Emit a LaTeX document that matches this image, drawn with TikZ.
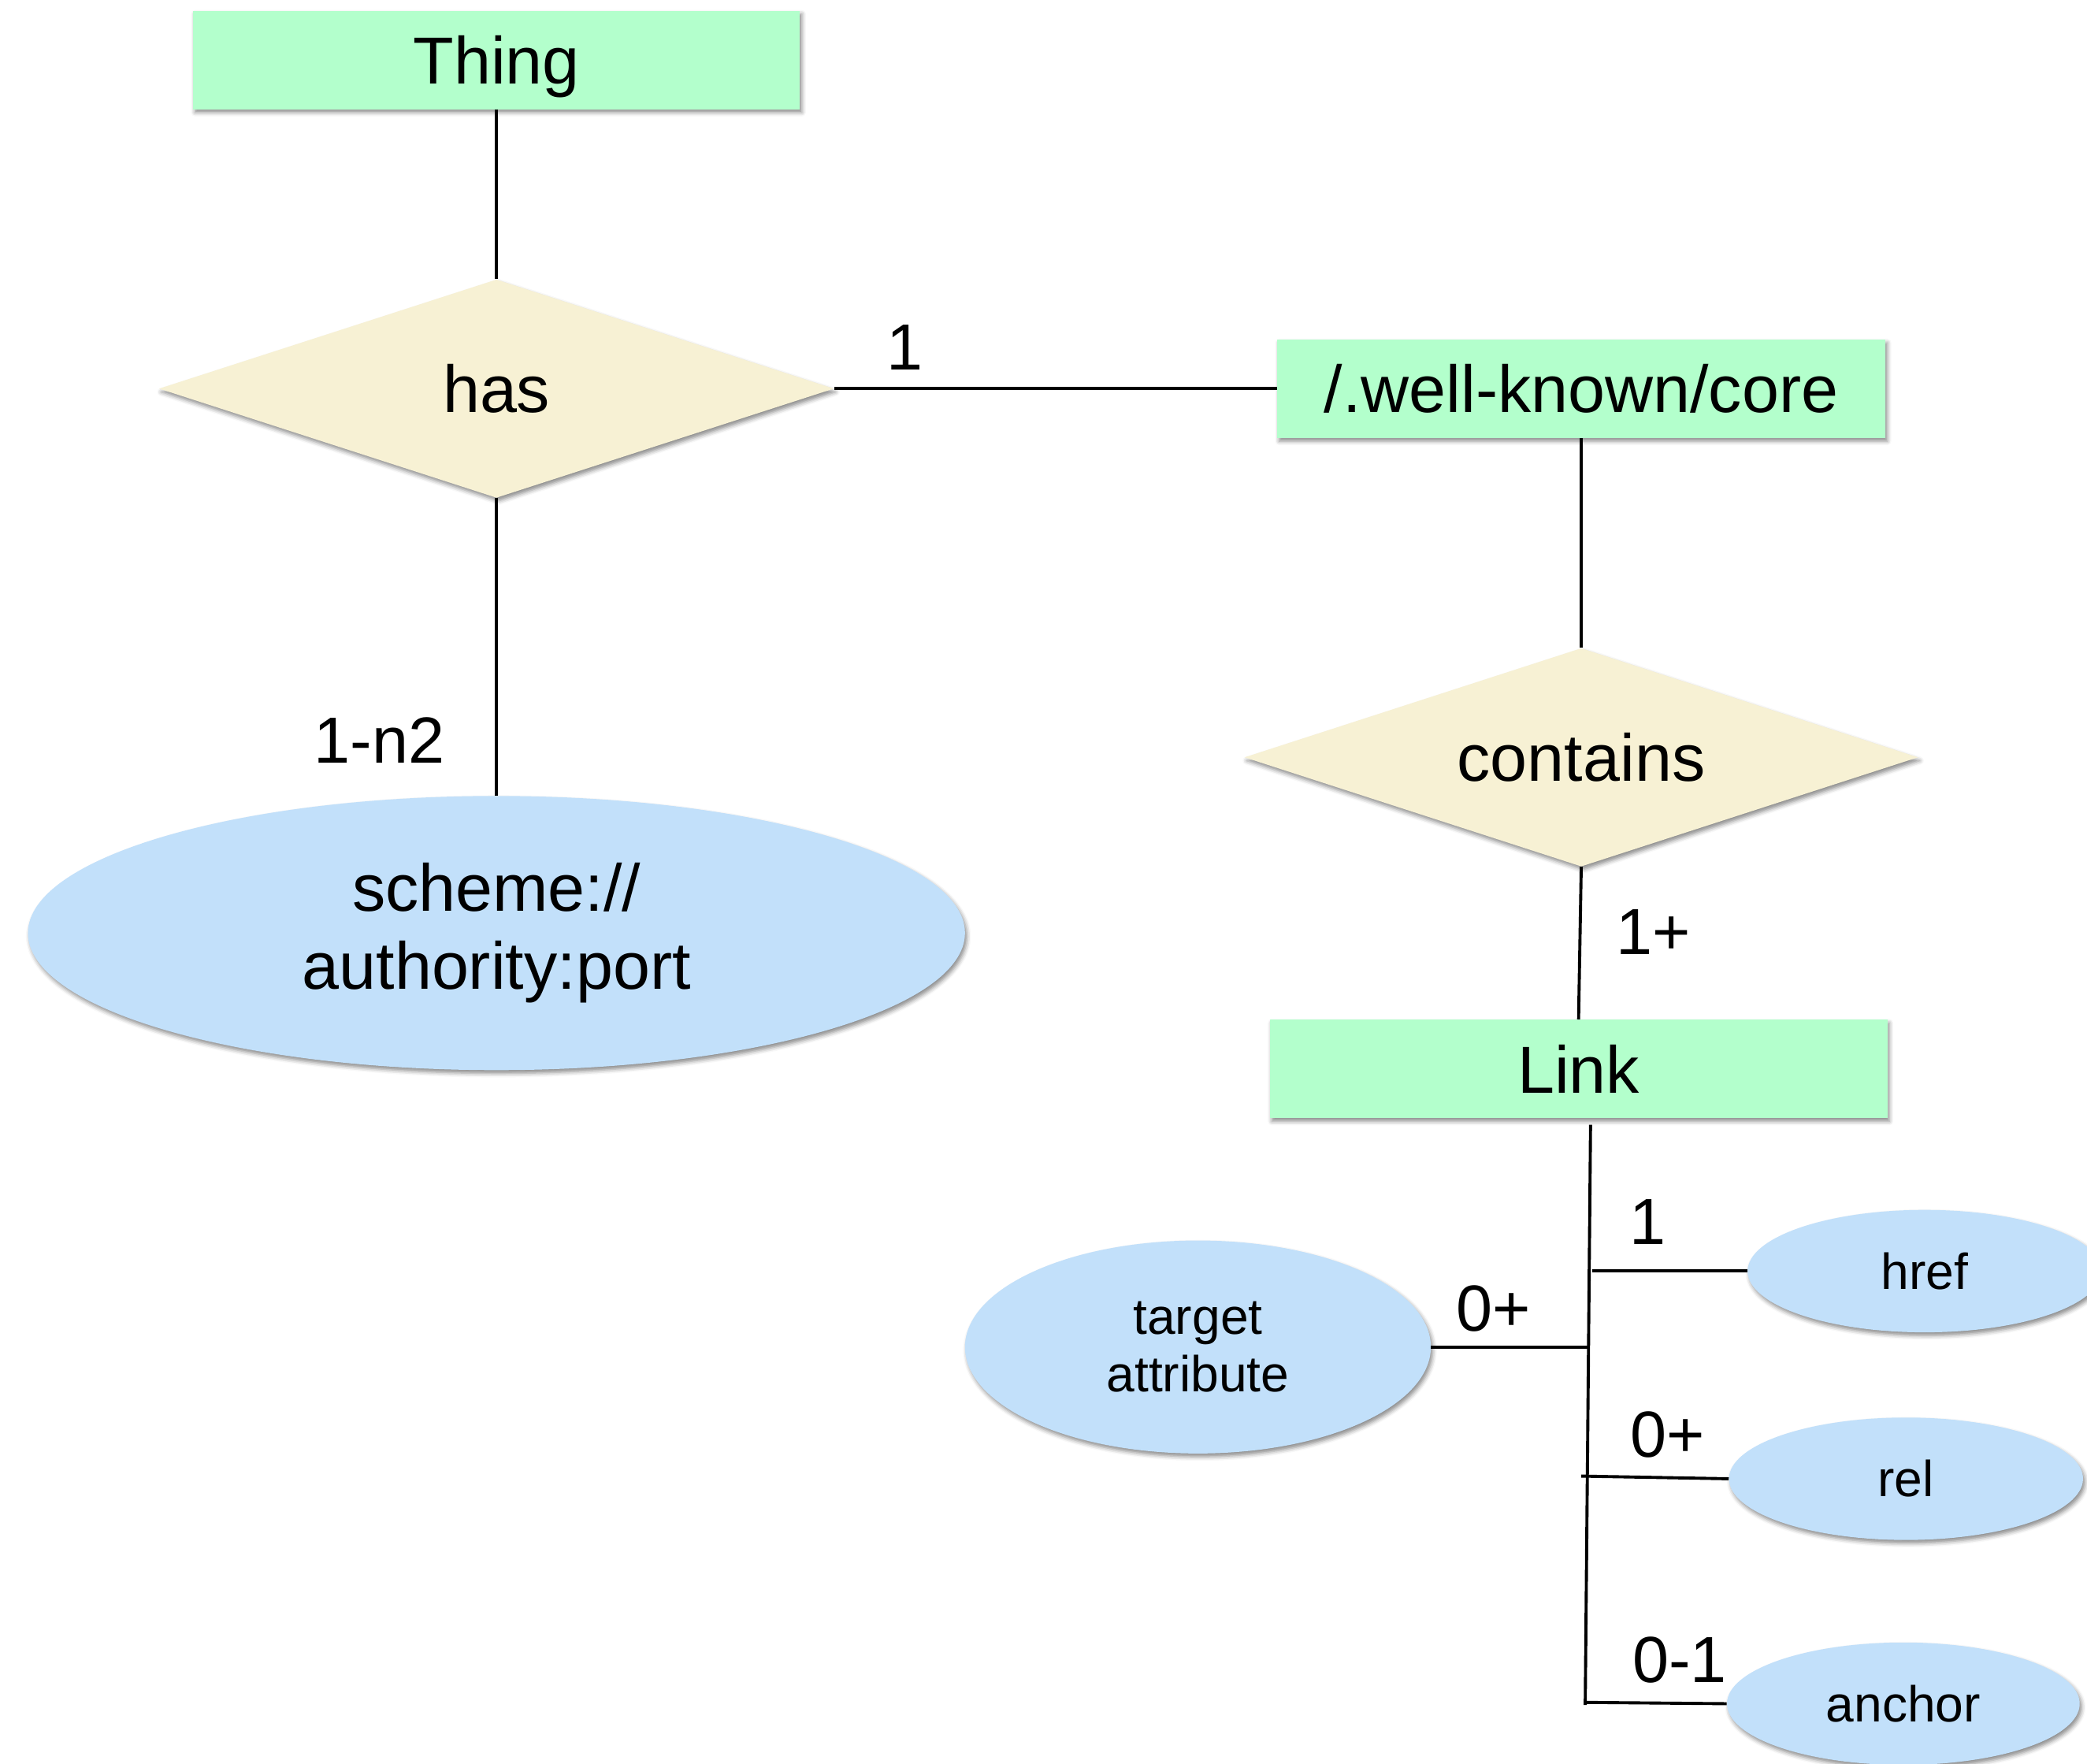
\documentclass[tikz,border=0pt]{standalone}
\usepackage{fontspec}
\setmainfont{Liberation Sans}
\usetikzlibrary{shapes.geometric,shadows.blur}
\definecolor{boxgreen}{RGB}{179,255,204}
\definecolor{relfill}{RGB}{247,241,212}
\definecolor{attrblue}{RGB}{194,224,250}
\begin{document}
\begin{tikzpicture}[x=1pt,y=-1pt,
  shad/.style={blur shadow={shadow xshift=1.5pt,shadow yshift=-2.5pt,shadow blur radius=3pt,shadow opacity=45}},
  entity/.style={rectangle,fill=boxgreen,shad,inner sep=0pt,minimum height=74pt,text depth=0pt,font=\fontsize{50}{59}\selectfont},
  relation/.style={diamond,fill=relfill,shad,inner sep=0pt,shape aspect=3.09,minimum width=507pt,minimum height=164pt,font=\fontsize{50}{59}\selectfont},
  attr/.style={ellipse,fill=attrblue,shad,inner sep=0pt,align=center},
  bigattr/.style={attr,font=\fontsize{50}{59}\selectfont},
  smallattr/.style={attr,font=\fontsize{38}{43}\selectfont},
  conn/.style={line width=2.3pt},
  card/.style={font=\fontsize{49}{58}\selectfont,inner sep=0pt}]
\useasboundingbox (0,0) rectangle (1568,1325);

% entities
\node[entity,minimum width=456pt] (thing) at (373,45) {Thing};
\node[entity,minimum width=457pt] (wk) at (1188,292) {/.well-known/core};
\node[entity,minimum width=464pt] (link) at (1186,803) {Link};

% relations
\node[relation] (has) at (373,292) {has};
\node[relation,minimum width=506pt] (contains) at (1188,569) {contains};

% attributes
\node[bigattr,minimum width=704pt,minimum height=206pt] (scheme) at (373,701) {scheme://\\authority:port};
\node[smallattr,minimum width=350pt,minimum height=160pt] (target) at (900,1012) {target\\attribute};
\node[smallattr,minimum width=266pt,minimum height=92pt] (href) at (1446,955) {href};
\node[smallattr,minimum width=266pt,minimum height=92pt] (rel) at (1432,1111) {rel};
\node[smallattr,minimum width=265pt,minimum height=92pt] (anchor) at (1430,1280) {anchor};

% connectors
\draw[conn] (thing.south) -- (has.north);
\draw[conn] (has.east) -- (wk.west);
\draw[conn] (has.south) -- (scheme.north);
\draw[conn] (wk.south) -- (contains.north);
\draw[conn] (contains.south) -- (link.north);

\coordinate (ltop) at (1195,845);
\coordinate (lbot) at (1191,1281);
\coordinate (jhref) at (1196,955);
\coordinate (jtarget) at (1193,1012);
\coordinate (jrel) at (1188,1109);
\coordinate (janchor) at (1191,1279);
\draw[conn] (ltop) -- (lbot);
\draw[conn] (jhref) -- (href.west);
\draw[conn] (target.east) -- (jtarget);
\draw[conn] (jrel) -- (rel.west);
\draw[conn] (janchor) -- (anchor.west);

% cardinalities
\node[card] (c1) at (680,261) {1};
\node[card] (c2) at (285,556) {1-n2};
\node[card] (c3) at (1242,700) {1+};
\node[card] (c4) at (1238,918) {1};
\node[card] (c5) at (1122,983) {0+};
\node[card] (c6) at (1253,1078) {0+};
\node[card] (c7) at (1262,1247) {0-1};
\end{tikzpicture}
\end{document}
